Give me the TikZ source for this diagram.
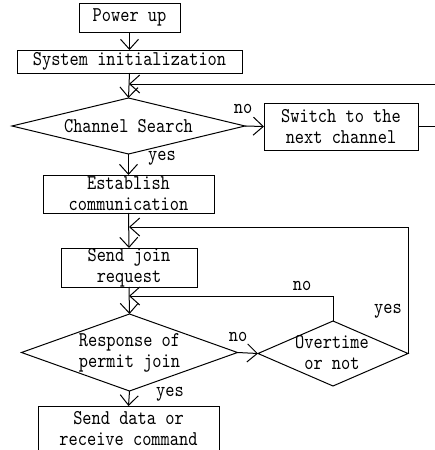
\documentclass[tikz,border=0pt]{standalone}
\usepackage{fontspec}
\setmonofont[FakeStretch=0.835]{lmmono10-regular.otf}
\usetikzlibrary{arrows.meta,shapes.geometric}
\begin{document}
\begin{tikzpicture}[x=1pt,y=-1pt,
  line width=1pt,
  >={Straight Barb[length=10pt,width=18pt]},
  every node/.style={font=\fontsize{21}{21}\ttfamily, inner sep=0pt, outer sep=0pt},
  box/.style={draw, rectangle, align=center},
  dia/.style={draw, diamond, aspect=20},
  txt/.style={align=center},
  lab/.style={}
]
\useasboundingbox (0,0) rectangle (435,450);

% process boxes
\node[box, minimum width=101pt, minimum height=29pt] (pwr) at (129.5,17.5) {Power up};
\node[box, minimum width=225pt, minimum height=23pt] (init) at (129.5,61.5) {System initialization};
\node[box, minimum width=154pt, minimum height=47pt] (switch) at (341,126.5) {Switch to the\\next channel};
\node[box, minimum width=171pt, minimum height=38pt] (estab) at (128.5,194) {Establish\\communication};
\node[box, minimum width=136pt, minimum height=39pt] (join) at (129,267.5) {Send join\\request};
\node[box, minimum width=181pt, minimum height=60pt, anchor=north] (data) at (128.5,406) {};
\node[txt] (datatext) at (128.5,428.5) {Send data or\\receive command};

% decisions
\node[dia, minimum width=233pt, minimum height=56pt] (search) at (128.5,126) {};
\node[txt] (searchtext) at (search) {Channel Search};
\node[dia, minimum width=216pt, minimum height=77pt] (resp) at (129.5,352.5) {};
\node[txt] (resptext) at (resp) {Response of\\permit join};
\node[dia, minimum width=150pt, minimum height=65pt] (over) at (333,353.5) {};
\node[txt] (overtext) at (332,352.5) {Overtime\\or not};

% merge points on the main line
\coordinate (m1) at (129,84);
\coordinate (m2) at (129,227);
\coordinate (m3) at (129,296);

% main flow
\draw[->] (pwr.south) -- (init.north);
\draw[->] (init.south) -- (search.north);
\draw[->] (search.east) -- (switch.west);
\draw[->] (search.south) -- (estab.north);
\draw[->] (estab.south) -- (join.north);
\draw[->] (join.south) -- (resp.north);
\draw[->] (resp.east) -- (over.west);
\draw[->] (resp.south) -- (data.north);

% loops back
\draw[->] (switch.east) -- ++(30,0) |- (m1);
\draw[->] (over.north) |- (m3);
\draw[->] (over.east) |- (m2);

% branch labels
\node[lab] (l1) at (243,109) {no};
\node[lab] (l2) at (162,158) {yes};
\node[lab] (l3) at (302,286) {no};
\node[lab] (l4) at (388,311) {yes};
\node[lab] (l5) at (238,337) {no};
\node[lab] (l6) at (170,394) {yes};
\end{tikzpicture}
\end{document}
